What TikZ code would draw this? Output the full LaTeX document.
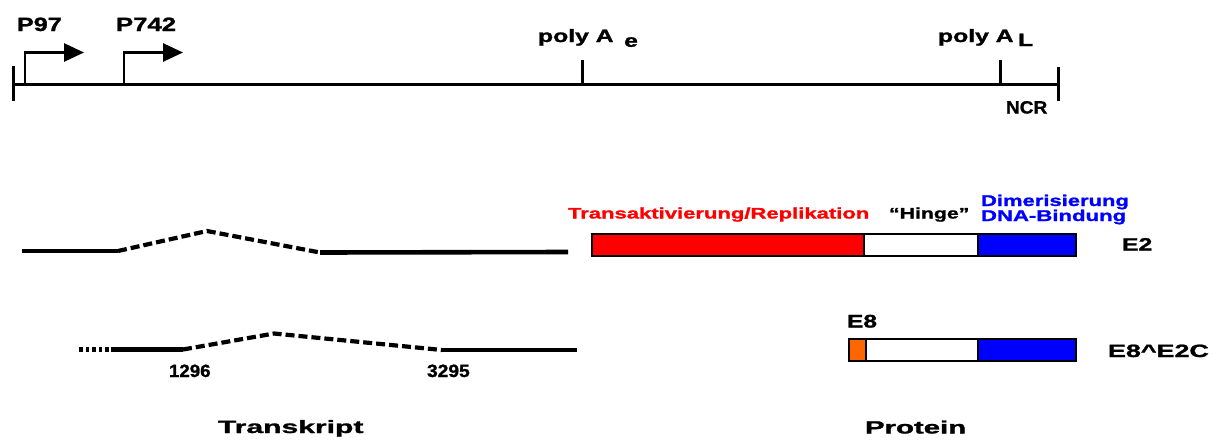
\documentclass[tikz,border=0pt]{standalone}
\usepackage{fontspec}
\setmainfont{Liberation Sans}[BoldFeatures={FakeBold=1.2}]
\usepackage{graphicx}
\usetikzlibrary{arrows.meta}
\definecolor{tared}{RGB}{255,0,0}
\definecolor{dimblue}{RGB}{0,0,255}
\definecolor{eightorange}{RGB}{255,102,0}
% bold label: size (pt), horizontal stretch, text
\newcommand{\lbl}[3]{\fontsize{#1}{#1}\selectfont\bfseries\scalebox{#2}[1]{#3}}
\begin{document}
\begin{tikzpicture}[x=0.5pt,y=-0.5pt,
  genome/.style={line width=1.5pt},
  promoter/.style={line width=1.4pt,-{Triangle[length=10pt,width=9pt]}},
  exon/.style={line width=2.3pt},
  intron/.style={line width=2.1pt,dash pattern=on 4.5pt off 2pt},
  leader/.style={line width=2.3pt,dash pattern=on 1.8pt off 1.5pt},
  protbox/.style={draw=black,line width=1.2pt},
  lab/.style={anchor=base west,inner sep=0pt,outer sep=0pt}]
\useasboundingbox (0,0) rectangle (1218,439);

% ---- genome map ----
\coordinate (gL) at (13,84.5);
\coordinate (gR) at (1058,84.5);
\draw[genome] (gL) -- (gR);
\draw[genome] (13,66) -- (13,101);
\draw[genome] (1058,67) -- (1058,101);
\coordinate (pAe) at (582.5,84.5);
\coordinate (pAL) at (1000.5,84.5);
\draw[genome] (pAe) -- ++(0,-25);
\draw[genome] (pAL) -- ++(0,-25);

% promoters
\coordinate (p97) at (25,84.5);
\coordinate (p97tip) at (84,52.5);
\coordinate (p742) at (124,84.5);
\coordinate (p742tip) at (183,52.5);
\draw[promoter] (p97) |- (p97tip);
\draw[promoter] (p742) |- (p742tip);

\node[lab] (tP97) at (17,31) {\lbl{9.6}{1.31}{P97}};
\node[lab] (tP742) at (116,31) {\lbl{9.6}{1.34}{P742}};
\node[lab] (tpAe) at (538,42) {\lbl{8.9}{1.39}{poly A\hspace{3.8pt}\raisebox{-2.4pt}{e}}};
\node[lab] (tpAL) at (938,42) {\lbl{8.9}{1.39}{poly A\hspace{1.6pt}\raisebox{-2.0pt}{L}}};
\node[lab] (tNCR) at (1006,113.5) {\lbl{8.9}{1.07}{NCR}};

% ---- transcripts ----
\coordinate (a1) at (22,251);
\coordinate (a2) at (118,251);
\coordinate (a3) at (207,231);
\coordinate (a4) at (320,252.5);
\coordinate (a5) at (568,252);
\draw[exon] (a1) -- (a2);
\draw[intron] (a2) -- (a3) -- (a4);
\draw[exon] (a4) -- (a5);

\coordinate (b0) at (79,349.5);
\coordinate (b1) at (111,349.5);
\coordinate (b2) at (183,349.5);
\coordinate (b3) at (274,333.5);
\coordinate (b4) at (442,350);
\coordinate (b5) at (577,350);
\draw[leader] (b0) -- (b1);
\draw[exon] (b1) -- (b2);
\draw[intron] (b2) -- (b3) -- (b4);
\draw[exon] (b4) -- (b5);

\node[lab] (t1296) at (169,377) {\lbl{8.9}{1.05}{1296}};
\node[lab] (t3295) at (427,377) {\lbl{8.9}{1.08}{3295}};

% ---- proteins ----
\draw[protbox,fill=tared] (592,234) rectangle (864,256);
\draw[protbox,fill=white] (864,234) rectangle (978,256);
\draw[protbox,fill=dimblue] (978,234) rectangle (1076,256);

\draw[protbox,fill=eightorange] (849,339) rectangle (866,361);
\draw[protbox,fill=white] (866,339) rectangle (978,361);
\draw[protbox,fill=dimblue] (978,339) rectangle (1076,361);

\node[lab,text=tared] (tTrans) at (568,218.5) {\lbl{7.6}{1.45}{Transaktivierung/Replikation}};
\node[lab] (tHinge) at (889,218.5) {\lbl{7.6}{1.4}{“Hinge”}};
\node[lab,text=dimblue] (tDim) at (981,206) {\lbl{7.8}{1.41}{Dimerisierung}};
\node[lab,text=dimblue] (tDNA) at (981,221) {\lbl{7.8}{1.42}{DNA-Bindung}};
\node[lab] (tE2) at (1122,250.5) {\lbl{8.9}{1.39}{E2}};
\node[lab] (tE8) at (847,327.5) {\lbl{9.1}{1.35}{E8}};
\node[lab] (tE8E2C) at (1108,357) {\lbl{8.9}{1.51}{E8\^{}E2C}};

\node[lab] (tTranskript) at (218,433) {\lbl{8.9}{1.69}{Transkript}};
\node[lab] (tProtein) at (865,433.5) {\lbl{8.9}{1.65}{Protein}};
\end{tikzpicture}
\end{document}
